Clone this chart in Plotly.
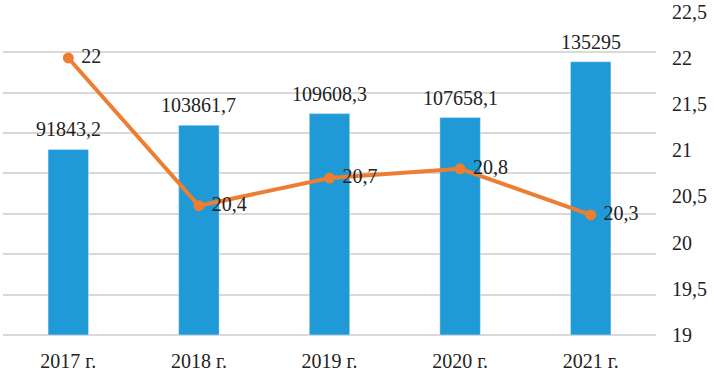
import plotly.graph_objects as go

categories = ["2017 г.", "2018 г.", "2019 г.", "2020 г.", "2021 г."]
bar_values = [91843.2, 103861.7, 109608.3, 107658.1, 135295]
line_values = [22, 20.4, 20.7, 20.8, 20.3]
right_ticks = [19, 19.5, 20, 20.5, 21, 21.5, 22, 22.5]

def fmt(v):
    s = repr(float(v))
    if s.endswith(".0"):
        s = s[:-2]
    return s.replace(".", ",")

bar_text = [fmt(v) for v in bar_values]
line_text = [" " + fmt(v) for v in line_values]

FONT = "Liberation Serif, Times New Roman, serif"

fig = go.Figure()
fig.add_trace(go.Bar(
    x=categories, y=bar_values,
    marker=dict(color="#1f9ad6"), yaxis="y",
))
fig.add_trace(go.Scatter(
    x=categories, y=line_values, mode="lines+markers+text", text=line_text,
    textposition="middle right", textfont=dict(family=FONT, size=20, color="#222"),
    line=dict(color="#ed7d31", width=4), marker=dict(color="#ed7d31", size=11),
    yaxis="y2", cliponaxis=False,
))
for c, v, t in zip(categories, bar_values, bar_text):
    fig.add_annotation(x=c, y=v, xref="x", yref="y", text=t, showarrow=False,
                       yanchor="bottom", yshift=7,
                       font=dict(family=FONT, size=20, color="#222"))
fig.update_layout(
    width=714, height=372, margin=dict(l=3, r=58, t=11, b=37, autoexpand=False),
    paper_bgcolor="white", plot_bgcolor="white", showlegend=False,
    separators=", ", bargap=0.69,
    font=dict(family=FONT, size=20, color="#222"),
    xaxis=dict(showgrid=False, showline=False, ticks="", tickfont=dict(size=20),
               ticklabelstandoff=12, automargin=False),
    yaxis=dict(range=[0, 160400], tick0=0, dtick=20000, showgrid=True, gridcolor="#d9d9d9",
               gridwidth=1.5, showticklabels=False, zeroline=True,
               zerolinecolor="#d9d9d9", zerolinewidth=1.5, automargin=False),
    yaxis2=dict(range=[19, 22.5 + 3.5 * 400 / 160000], tickvals=right_ticks,
                overlaying="y", side="right",
                showgrid=False, zeroline=False, tickfont=dict(size=20),
                ticklabelstandoff=15, automargin=False),
)
fig.write_html("out.html", config={"displayModeBar": False},
               post_script="document.body.style.margin='0';")
